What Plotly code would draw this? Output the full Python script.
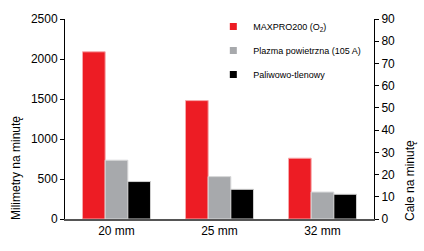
import plotly.graph_objects as go

categories = ["20 mm", "25 mm", "32 mm"]
maxpro = [2090, 1480, 760]
plazma = [735, 530, 337]
paliwowo = [468, 371, 309]
series_names = ["MAXPRO200 (O<sub>2</sub>)", "Plazma powietrzna (105 A)", "Paliwowo-tlenowy"]
colors = ["#ED1C24", "#A7A9AC", "#000000"]
edge_colors = ["#F7A8AB", "#D8D9DA", "#CFCFCF"]
left_ticks = [0, 500, 1000, 1500, 2000, 2500]
right_ticks = [0, 10, 20, 30, 40, 50, 60, 70, 80, 90]
left_title = "Milimetry na minutę"
right_title = "Cale na minutę"

FONT = "Liberation Sans, Arial, sans-serif"

fig = go.Figure()
for name, vals, c, ec in zip(series_names, [maxpro, plazma, paliwowo], colors, edge_colors):
    fig.add_trace(go.Bar(x=categories, y=vals, name=name, marker=dict(color=c, line=dict(color=ec, width=1)),
                         showlegend=False))
for i, (name, c) in enumerate(zip(series_names, colors)):
    fig.add_trace(go.Scatter(x=[None], y=[None], name=name, mode="markers",
                             marker=dict(symbol="square", size=7, color=c),
                             yaxis="y2", legendgroup=f"g{i}", showlegend=True))

fig.update_layout(
    width=424, height=251,
    margin=dict(l=65, r=50, t=19, b=32),
    paper_bgcolor="white", plot_bgcolor="white",
    bargap=0.34, bargroupgap=0,
    font=dict(family=FONT, size=12, color="black"),
    showlegend=True,
    legend=dict(x=0.48, y=1.035, xanchor="left", yanchor="top", bgcolor="rgba(0,0,0,0)",
                font=dict(size=9, color="black"), tracegroupgap=5, itemwidth=30),
    xaxis=dict(showline=True, linecolor="#555555", linewidth=2, ticks="", showgrid=False,
               tickfont=dict(size=12), ticklabelstandoff=0),
    yaxis=dict(range=[0, 2500], tickvals=left_ticks, showline=True, linecolor="black", linewidth=1,
               ticks="outside", ticklen=4, tickcolor="black", showgrid=False, zeroline=False,
               tickfont=dict(size=12)),
    yaxis2=dict(range=[0, 90], tickvals=right_ticks, overlaying="y", side="right", showline=True,
                linecolor="black", linewidth=1, ticks="outside", ticklen=4, tickcolor="black",
                showgrid=False, zeroline=False, tickfont=dict(size=12)),
    annotations=[
        dict(text=left_title, textangle=-90, xref="paper", yref="paper", x=-0.1586, y=0.255,
             xanchor="center", yanchor="middle", showarrow=False, font=dict(size=12)),
        dict(text=right_title, textangle=-90, xref="paper", yref="paper", x=1.1165, y=0.195,
             xanchor="center", yanchor="middle", showarrow=False, font=dict(size=12)),
    ],
)

fig.write_html("out.html")
